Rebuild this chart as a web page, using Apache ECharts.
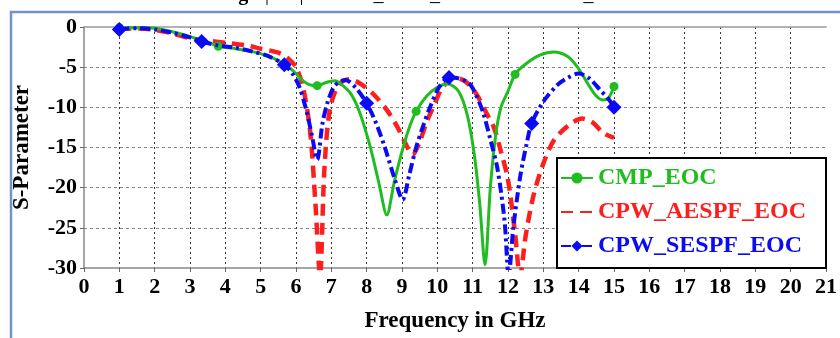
<!DOCTYPE html>
<html><head><meta charset="utf-8">
<script src="https://cdn.jsdelivr.net/npm/echarts/dist/echarts.min.js"></script>
<style>html,body{margin:0;padding:0;background:#fff}#c{width:840px;height:338px}</style>
</head><body><div id="c"></div>
<script>
// ---- data ----
const seriesNames = ['CMP_EOC', 'CPW_AESPF_EOC', 'CPW_SESPF_EOC'];
const xTicks = [0,1,2,3,4,5,6,7,8,9,10,11,12,13,14,15,16,17,18,19,20,21];
const yTicks = [0,-5,-10,-15,-20,-25,-30];

const cmpX = [1,1.5,2,2.5,3,3.5,3.8,4.3,4.8,5.2,5.5,5.8,6.0,6.2,6.4,6.6,6.85,7.1,7.3,7.55,7.8,8.1,8.35,8.57,8.78,9.0,9.2,9.4,9.7,10.0,10.3,10.6,10.85,11.05,11.2,11.35,11.5,11.65,11.8,12.0,12.2,12.5,12.9,13.3,13.7,14.0,14.25,14.5,14.7,14.85,15];
const cmpY = [-0.1,-0.1,-0.15,-0.6,-1.2,-1.9,-2.4,-2.7,-3.1,-3.6,-4.2,-5.0,-5.8,-6.7,-7.2,-7.3,-6.9,-6.7,-7.2,-8.3,-10.6,-14.9,-19.5,-23.4,-19.3,-15.5,-12.6,-10.5,-8.6,-7.5,-7.1,-8.0,-11.0,-16.0,-22.0,-29.6,-20.0,-13.5,-10.0,-8.0,-5.9,-4.6,-3.5,-3.1,-3.7,-5.2,-7.0,-8.6,-9.1,-8.8,-7.4];
const cmpMarkers = [1,3.8,6.6,9.4,12.2,15];

const aespfX = [1,1.5,2,2.5,3,3.5,4.1,4.6,5.0,5.5,5.8,6.0,6.2,6.4,6.55,6.68,6.8,6.95,7.2,7.5,7.8,8.2,8.6,8.9,9.1,9.3,9.5,9.7,9.9,10.15,10.5,10.8,11.1,11.4,11.6,11.8,12.0,12.2,12.34,12.5,12.72,13.0,13.3,13.7,14.1,14.4,14.7,15];
const aespfY = [-0.2,-0.2,-0.35,-0.8,-1.4,-1.7,-2.0,-2.3,-2.7,-3.2,-4.0,-5.0,-7.5,-13.0,-22.0,-31,-18.0,-10.5,-7.2,-6.5,-7.0,-8.4,-10.5,-12.7,-14.5,-15.9,-14.3,-11.8,-9.8,-7.5,-6.3,-6.8,-8.3,-10.8,-12.5,-15.5,-19.0,-25.7,-31,-26.0,-21.0,-17.0,-14.1,-12.3,-11.4,-11.9,-13.2,-13.8];

const sespfX = [1,1.5,2,2.5,3,3.33,3.8,4.3,4.8,5.2,5.67,5.9,6.1,6.3,6.45,6.6,6.75,6.9,7.1,7.4,7.7,8.0,8.25,8.5,8.8,9.02,9.2,9.4,9.6,9.8,10.05,10.33,10.6,10.9,11.1,11.3,11.5,11.7,11.9,12.02,12.15,12.35,12.53,12.67,13.0,13.4,13.7,14.0,14.3,14.6,14.85,15];
const sespfY = [-0.3,-0.15,-0.3,-0.7,-1.3,-1.8,-2.3,-2.6,-3.1,-3.6,-4.7,-5.8,-7.5,-10.5,-13.5,-16.5,-12.0,-9.3,-7.3,-6.6,-7.6,-9.5,-11.8,-14.8,-19.0,-21.5,-18.5,-15.0,-12.3,-9.9,-7.5,-6.3,-6.4,-7.0,-8.5,-10.7,-14.0,-17.6,-24.0,-31,-25.0,-18.5,-14.5,-12.0,-9.3,-7.2,-6.3,-5.8,-6.4,-7.8,-9.0,-10.0];
const sespfMarkers = [1,3.33,5.67,8,10.33,12.67,15];

const colors = ['#1fbd1f', '#ff1e1e', '#0a0af5'];

function build(xs, ys, markers) {
  return xs.map((x, i) => {
    const isM = markers && markers.some(m => Math.abs(m - x) < 1e-6);
    return isM ? { value: [x, ys[i]] } : { value: [x, ys[i]], symbol: 'none' };
  });
}

const font = 'Liberation Serif';
const chart = echarts.init(document.getElementById('c'), null, { renderer: 'canvas' });
chart.setOption({
  animation: false,
  backgroundColor: '#fff',
  grid: { left: 84, right: 14, top: 27, bottom: 70, containLabel: false },
  xAxis: [{
    type: 'value', min: 0, max: 21, interval: 1,
    name: 'Frequency in GHz', nameLocation: 'middle', nameGap: 42,
    nameTextStyle: { fontFamily: font, fontWeight: 'bold', fontSize: 23, color: '#000' },
    axisLine: { show: true, onZero: false, lineStyle: { color: '#888', width: 1.5 } },
    axisTick: { show: true, length: 4, lineStyle: { color: '#666' } },
    axisLabel: { fontFamily: font, fontWeight: 'bold', fontSize: 22, color: '#000', margin: 8,
      formatter: v => xTicks.includes(v) ? String(v) : '' },
    splitLine: { show: true, showMinLine: false, showMaxLine: false, lineStyle: { color: '#333', type: [2, 3], width: 1 } }
  }, {
    type: 'value', min: 0, max: 21, position: 'top',
    axisLine: { show: true, lineStyle: { color: '#999', width: 1.5 } },
    axisTick: { show: false }, axisLabel: { show: false }, splitLine: { show: false }
  }],
  yAxis: {
    type: 'value', min: -30, max: 0, interval: 5,
    name: 'S-Parameter', nameLocation: 'middle', nameGap: 50,
    nameTextStyle: { fontFamily: font, fontWeight: 'bold', fontSize: 23, color: '#000' },
    axisLine: { show: true, onZero: false, lineStyle: { color: '#888', width: 1.5 } },
    axisTick: { show: true, length: 4, lineStyle: { color: '#666' } },
    axisLabel: { fontFamily: font, fontWeight: 'bold', fontSize: 22, color: '#000', margin: 7,
      formatter: v => yTicks.includes(v) ? String(v) : '' },
    splitLine: { show: true, showMinLine: false, showMaxLine: false, lineStyle: { color: '#888', type: [3, 3], width: 1 } }
  },
  legend: {
    orient: 'vertical', left: 557, top: 158,
    backgroundColor: '#fff', borderColor: '#000', borderWidth: 2,
    padding: [8, 20, 10, 3], itemGap: 10, itemWidth: 32, itemHeight: 14,
    textStyle: { fontFamily: font, fontWeight: 'bold', fontSize: 24 },
    data: [
      { name: seriesNames[0], textStyle: { color: colors[0] } },
      { name: seriesNames[1], textStyle: { color: colors[1] }, itemStyle: { opacity: 0 } },
      { name: seriesNames[2], textStyle: { color: colors[2] } }
    ]
  },
  graphic: [
    { type: 'rect', shape: { x: 11, y: 12, width: 900, height: 400 }, style: { fill: 'none', stroke: '#7095c6', lineWidth: 2.5 }, z: 100 },
    { type: 'text', x: 427, y: 5, style: { text: '{b|Fig.:} |S11| of CPW_RSPF_EOC versus CMP_EOC', align: 'center', verticalAlign: 'bottom',
        font: '20px "Liberation Serif"', fill: '#000', rich: { b: { fontWeight: 'bold', fontSize: 20, fontFamily: font } } }, z: 100 }
  ],
  series: [
    { name: seriesNames[0], type: 'line', smooth: 0.3, color: colors[0],
      symbol: 'circle', symbolSize: 9, showSymbol: true,
      lineStyle: { width: 3, color: colors[0] }, itemStyle: { color: colors[0] },
      data: build(cmpX, cmpY, cmpMarkers), z: 3 },
    { name: seriesNames[1], type: 'line', smooth: 0.3, color: colors[1],
      symbol: 'none', showSymbol: false,
      lineStyle: { width: 4.5, color: colors[1], type: [12, 7] },
      data: build(aespfX, aespfY, null), z: 2 },
    { name: seriesNames[2], type: 'line', smooth: 0.3, color: colors[2],
      symbol: 'diamond', symbolSize: 15, showSymbol: true,
      lineStyle: { width: 4, color: colors[2], type: [10, 4, 3, 4] }, itemStyle: { color: colors[2] },
      data: build(sespfX, sespfY, sespfMarkers), z: 4 }
  ]
});
</script></body></html>
